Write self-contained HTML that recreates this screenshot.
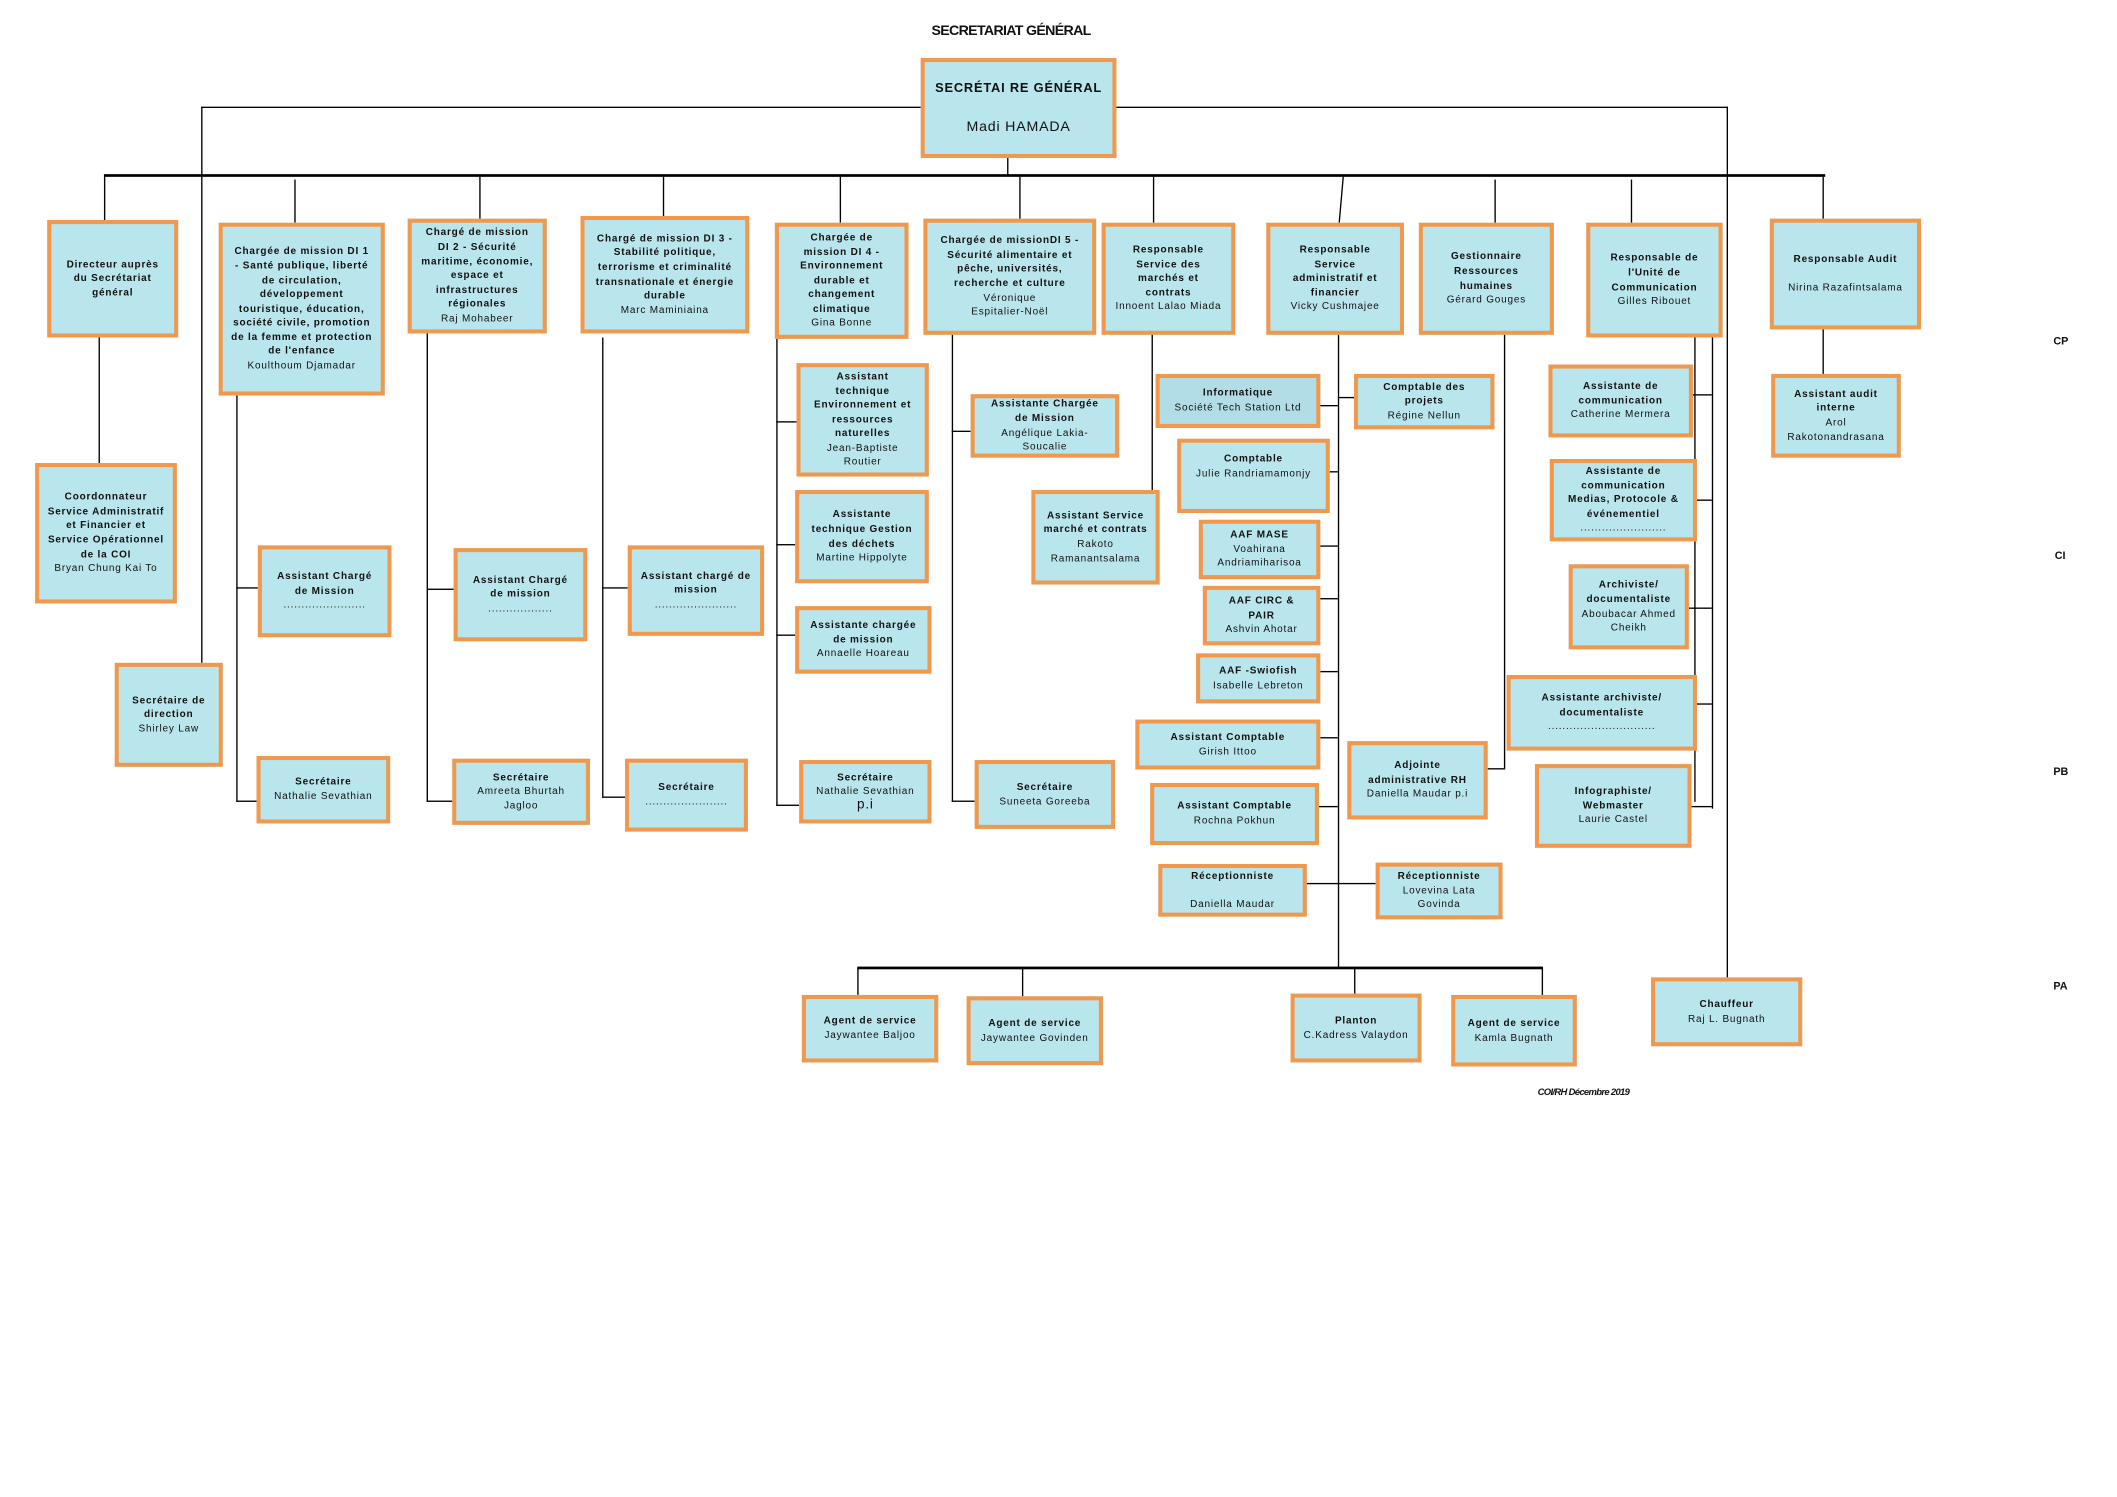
<!DOCTYPE html>
<html><head><meta charset="utf-8"><style>
html,body{margin:0;padding:0;background:#fff;width:2117px;height:1497px;overflow:hidden}
#c{position:absolute;left:0;top:0;width:1568px;height:1109px;transform:scale(1.35);transform-origin:0 0;font-family:"Liberation Sans",sans-serif;color:#111}
.b{position:absolute;background:#b9e5ec;border:3px solid #f0994e;box-sizing:border-box;display:flex;flex-direction:column;justify-content:center;align-items:center;text-align:center;font-size:7.4px;line-height:10.6px;letter-spacing:0.6px;padding:0 6px}
.b b{font-weight:bold}
.h,.v{position:absolute;background:#000}
.v{width:1.3px}.h{height:1.3px}
.lab{position:absolute;font-size:8px;font-weight:bold;font-family:"Liberation Sans Narrow","Liberation Sans",sans-serif}
</style></head><body><div id="c">
<div class="lab" style="left:690px;top:17px;font-size:10.5px;letter-spacing:-0.5px">SECRETARIAT GÉNÉRAL</div>
<div class="lab" style="left:1521px;top:248px">CP</div>
<div class="lab" style="left:1522px;top:407px">CI</div>
<div class="lab" style="left:1521px;top:567px">PB</div>
<div class="lab" style="left:1521px;top:726px">PA</div>
<div class="lab" style="left:1139px;top:806px;font-style:italic;font-size:7px;letter-spacing:-0.5px">COI/RH Décembre 2019</div>

<div class="h" style="left:149px;top:79px;width:534px"></div>
<div class="v" style="left:149px;top:79px;height:412px"></div>
<div class="h" style="left:826px;top:79px;width:454px"></div>
<div class="v" style="left:1279px;top:79px;height:645px"></div>
<div class="v" style="left:746px;top:116px;height:14px"></div>
<div class="h" style="left:77px;top:129px;width:1275px;height:2px"></div>
<div class="v" style="left:77px;top:130px;height:33px"></div>
<div class="v" style="left:218px;top:133px;height:32px"></div>
<div class="v" style="left:355px;top:131px;height:31px"></div>
<div class="v" style="left:491px;top:131px;height:29px"></div>
<div class="v" style="left:622px;top:131px;height:34px"></div>
<div class="v" style="left:755px;top:131px;height:31px"></div>
<div class="v" style="left:854px;top:131px;height:34px"></div>
<div class="v" style="left:993px;top:131px;height:34px;transform:skewX(-5deg)"></div>
<div class="v" style="left:1107px;top:133px;height:32px"></div>
<div class="v" style="left:1208px;top:133px;height:32px"></div>
<div class="v" style="left:1350px;top:131px;height:31px"></div>

<div class="v" style="left:73px;top:249px;height:94px"></div>
<div class="v" style="left:175px;top:292px;height:302px"></div>
<div class="h" style="left:175px;top:435px;width:16px"></div>
<div class="h" style="left:175px;top:593px;width:16px"></div>
<div class="v" style="left:316px;top:246px;height:348px"></div>
<div class="h" style="left:316px;top:436px;width:20px"></div>
<div class="h" style="left:316px;top:593px;width:20px"></div>
<div class="v" style="left:446px;top:250px;height:341px"></div>
<div class="h" style="left:446px;top:435px;width:19px"></div>
<div class="h" style="left:446px;top:590px;width:17px"></div>
<div class="v" style="left:575px;top:250px;height:347px"></div>
<div class="h" style="left:575px;top:312px;width:15px"></div>
<div class="h" style="left:575px;top:403px;width:15px"></div>
<div class="h" style="left:575px;top:470px;width:15px"></div>
<div class="h" style="left:575px;top:596px;width:17px"></div>
<div class="v" style="left:705px;top:247px;height:347px"></div>
<div class="h" style="left:705px;top:319px;width:14px"></div>
<div class="h" style="left:705px;top:593px;width:17px"></div>
<div class="v" style="left:853px;top:247px;height:116px"></div>
<div class="v" style="left:991px;top:247px;height:470px"></div>
<div class="h" style="left:977px;top:300px;width:14px"></div>
<div class="h" style="left:991px;top:294px;width:12px"></div>
<div class="h" style="left:984px;top:349px;width:7px"></div>
<div class="h" style="left:977px;top:404px;width:14px"></div>
<div class="h" style="left:977px;top:443px;width:14px"></div>
<div class="h" style="left:977px;top:497px;width:14px"></div>
<div class="h" style="left:977px;top:546px;width:14px"></div>
<div class="h" style="left:976px;top:597px;width:15px"></div>
<div class="h" style="left:967px;top:654px;width:52px"></div>
<div class="v" style="left:1114px;top:247px;height:322px"></div>
<div class="h" style="left:1101px;top:569px;width:14px"></div>
<div class="h" style="left:635px;top:716px;width:508px;height:2px"></div>
<div class="v" style="left:635px;top:717px;height:20px"></div>
<div class="v" style="left:757px;top:717px;height:21px"></div>
<div class="v" style="left:1003px;top:717px;height:19px"></div>
<div class="v" style="left:1142px;top:717px;height:20px"></div>
<div class="v" style="left:1268px;top:249px;height:350px"></div>
<div class="v" style="left:1255px;top:249px;height:345px"></div>
<div class="h" style="left:1253px;top:292px;width:15px"></div>
<div class="h" style="left:1256px;top:370px;width:12px"></div>
<div class="h" style="left:1250px;top:450px;width:18px"></div>
<div class="h" style="left:1256px;top:521px;width:12px"></div>
<div class="h" style="left:1252px;top:597px;width:16px"></div>
<div class="v" style="left:1350px;top:243px;height:34px"></div>

<div class="b" style="left:682px;top:43px;width:145px;height:74px;font-size:9.5px;line-height:14px;padding:0;white-space:nowrap"><b style="letter-spacing:0.6px">SECRÉTAI RE GÉNÉRAL</b><br><span style="font-size:10.5px">Madi HAMADA</span></div>

<div class="b" style="left:35px;top:163px;width:97px;height:87px"><b>Directeur auprès du Secrétariat général</b></div>
<div class="b" style="left:162px;top:165px;width:123px;height:128px"><b>Chargée de mission DI 1 - Santé publique, liberté de circulation, développement touristique, éducation, société civile, promotion de la femme et protection de l'enfance</b>Koulthoum Djamadar</div>
<div class="b" style="left:302px;top:162px;width:103px;height:85px"><b>Chargé de mission DI 2 - Sécurité maritime, économie, espace et infrastructures régionales</b>Raj Mohabeer</div>
<div class="b" style="left:430px;top:160px;width:125px;height:87px"><b>Chargé de mission DI 3 - Stabilité politique, terrorisme et criminalité transnationale et énergie durable</b>Marc Maminiaina</div>
<div class="b" style="left:574px;top:165px;width:99px;height:86px"><b>Chargée de mission DI 4 - Environnement durable et changement climatique</b>Gina Bonne</div>
<div class="b" style="left:684px;top:162px;width:128px;height:86px"><b>Chargée de missionDI 5 - Sécurité alimentaire et pêche, universités, recherche et culture</b>Véronique<br>Espitalier-Noël</div>
<div class="b" style="left:816px;top:165px;width:99px;height:83px"><b>Responsable Service des marchés et contrats</b>Innoent Lalao Miada</div>
<div class="b" style="left:938px;top:165px;width:102px;height:83px"><b>Responsable Service administratif et financier</b>Vicky Cushmajee</div>
<div class="b" style="left:1051px;top:165px;width:100px;height:83px"><b>Gestionnaire Ressources humaines</b>Gérard Gouges</div>
<div class="b" style="left:1175px;top:165px;width:101px;height:85px"><b>Responsable de l'Unité de Communication</b>Gilles Ribouet</div>
<div class="b" style="left:1311px;top:162px;width:112px;height:82px"><b>Responsable Audit</b><br>Nirina Razafintsalama</div>

<div class="b" style="left:26px;top:343px;width:105px;height:104px"><b>Coordonnateur Service Administratif et Financier et Service Opérationnel de la COI</b>Bryan Chung Kai To</div>
<div class="b" style="left:85px;top:491px;width:80px;height:77px"><b>Secrétaire de direction</b>Shirley Law</div>

<div class="b" style="left:191px;top:404px;width:99px;height:68px"><b>Assistant Chargé de Mission</b>.......................</div>
<div class="b" style="left:190px;top:560px;width:99px;height:50px"><b>Secrétaire</b>Nathalie Sevathian</div>
<div class="b" style="left:336px;top:406px;width:99px;height:69px"><b>Assistant Chargé de mission</b>..................</div>
<div class="b" style="left:335px;top:562px;width:102px;height:49px"><b>Secrétaire</b>Amreeta Bhurtah Jagloo</div>
<div class="b" style="left:465px;top:404px;width:101px;height:67px"><b>Assistant chargé de mission</b>.......................</div>
<div class="b" style="left:463px;top:562px;width:91px;height:54px"><b>Secrétaire</b>.......................</div>

<div class="b" style="left:590px;top:269px;width:98px;height:84px"><b>Assistant technique Environnement et ressources naturelles</b>Jean-Baptiste Routier</div>
<div class="b" style="left:589px;top:363px;width:99px;height:69px"><b>Assistante technique Gestion des déchets</b>Martine Hippolyte</div>
<div class="b" style="left:589px;top:449px;width:101px;height:50px"><b>Assistante chargée de mission</b>Annaelle Hoareau</div>
<div class="b" style="left:592px;top:563px;width:98px;height:47px"><b>Secrétaire</b>Nathalie Sevathian<span style="font-size:10px">p.i</span></div>

<div class="b" style="left:719px;top:292px;width:110px;height:47px"><b>Assistante Chargée de Mission</b>Angélique Lakia-Soucalie</div>
<div class="b" style="left:722px;top:563px;width:104px;height:51px"><b>Secrétaire</b>Suneeta Goreeba</div>
<div class="b" style="left:764px;top:363px;width:95px;height:70px"><b>Assistant Service marché et contrats</b>Rakoto Ramanantsalama</div>

<div class="b" style="left:856px;top:277px;width:122px;height:40px;background:#b3dde6"><b>Informatique</b>Société Tech Station Ltd</div>
<div class="b" style="left:1003px;top:277px;width:104px;height:41px"><b>Comptable des projets</b>Régine Nellun</div>
<div class="b" style="left:872px;top:325px;width:113px;height:55px;justify-content:flex-start;padding-top:7px"><b>Comptable</b>Julie Randriamamonjy</div>
<div class="b" style="left:888px;top:385px;width:90px;height:44px"><b>AAF MASE</b>Voahirana Andriamiharisoa</div>
<div class="b" style="left:891px;top:434px;width:87px;height:44px"><b>AAF CIRC &amp; PAIR</b>Ashvin Ahotar</div>
<div class="b" style="left:886px;top:484px;width:92px;height:37px"><b>AAF -Swiofish</b>Isabelle Lebreton</div>
<div class="b" style="left:841px;top:533px;width:137px;height:37px"><b>Assistant Comptable</b>Girish Ittoo</div>
<div class="b" style="left:852px;top:580px;width:125px;height:46px"><b>Assistant Comptable</b>Rochna Pokhun</div>
<div class="b" style="left:858px;top:640px;width:110px;height:39px"><b>Réceptionniste</b><br>Daniella Maudar</div>
<div class="b" style="left:1019px;top:639px;width:94px;height:42px"><b>Réceptionniste</b>Lovevina Lata Govinda</div>
<div class="b" style="left:998px;top:549px;width:104px;height:58px"><b>Adjointe administrative RH</b>Daniella Maudar p.i</div>

<div class="b" style="left:1147px;top:270px;width:107px;height:54px"><b>Assistante de communication</b>Catherine Mermera</div>
<div class="b" style="left:1148px;top:340px;width:109px;height:61px"><b>Assistante de communication Medias, Protocole &amp; événementiel</b>........................</div>
<div class="b" style="left:1162px;top:418px;width:89px;height:63px"><b>Archiviste/ documentaliste</b>Aboubacar Ahmed Cheikh</div>
<div class="b" style="left:1116px;top:500px;width:141px;height:56px"><b>Assistante archiviste/ documentaliste</b>..............................</div>
<div class="b" style="left:1137px;top:566px;width:116px;height:62px"><b>Infographiste/ Webmaster</b>Laurie Castel</div>
<div class="b" style="left:1312px;top:277px;width:96px;height:62px"><b>Assistant audit interne</b>Arol Rakotonandrasana</div>

<div class="b" style="left:594px;top:737px;width:101px;height:50px"><b>Agent de service</b>Jaywantee Baljoo</div>
<div class="b" style="left:716px;top:738px;width:101px;height:51px"><b>Agent de service</b>Jaywantee Govinden</div>
<div class="b" style="left:956px;top:736px;width:97px;height:51px"><b>Planton</b>C.Kadress Valaydon</div>
<div class="b" style="left:1075px;top:737px;width:93px;height:53px"><b>Agent de service</b>Kamla Bugnath</div>
<div class="b" style="left:1223px;top:724px;width:112px;height:51px"><b>Chauffeur</b>Raj L. Bugnath</div>
</div></body></html>
